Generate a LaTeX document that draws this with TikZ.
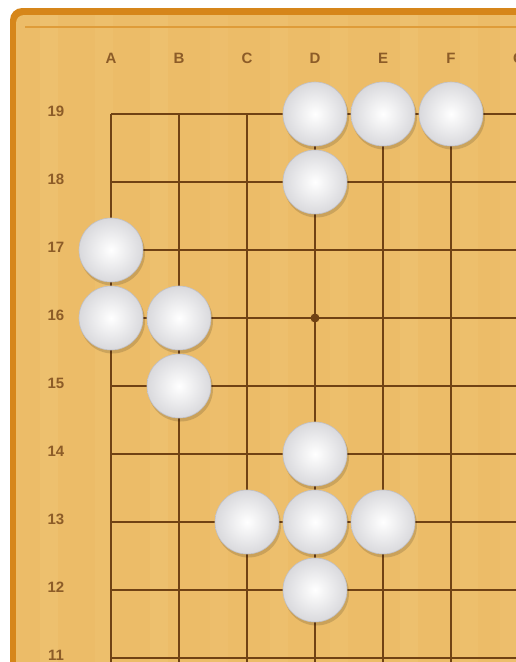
\documentclass[tikz,border=0pt]{standalone}
\usepackage{fontspec}
\setmainfont{Liberation Sans}
\definecolor{wood}{RGB}{236,188,104}
\definecolor{woodlight}{RGB}{242,204,128}
\definecolor{rim}{RGB}{214,134,26}
\definecolor{gridc}{RGB}{112,66,20}
\definecolor{labc}{RGB}{140,92,40}
\definecolor{stoneedge}{RGB}{192,192,198}
\tikzset{
  lab/.style={font=\bfseries\fontsize{15}{15}\selectfont, text=labc, inner sep=0pt},
  gridline/.style={draw=gridc, line width=1.4pt},
  wstone/.style={circle, minimum size=64pt, inner sep=0pt, draw=stoneedge, line width=0.6pt,
    inner color=white, outer color=stoneedge!60!white},
}
\begin{document}
\begin{tikzpicture}[x=1pt,y=-1pt]
\useasboundingbox (0,0) rectangle (516,662);
\fill[white] (0,0) rectangle (516,662);
% board rim and surface
\fill[rim, rounded corners=12pt] (10,8) rectangle (560,700);
\fill[wood, rounded corners=8pt] (16,15) rectangle (560,700);
\foreach \xx/\op in {40/0.25,95/0.2,150/0.25,210/0.18,270/0.22,330/0.2,400/0.25,460/0.2,500/0.18} {
  \fill[woodlight, opacity=\op] (\xx,15) rectangle ++(18,690);
}
\draw[rim!60!wood, line width=2pt] (25,27) -- (560,27);
% grid
\foreach \i in {0,...,6} \draw[gridline] (111+68*\i,114) -- (111+68*\i,700);
\foreach \j in {0,...,8} \draw[gridline] (111,114+68*\j) -- (560,114+68*\j);
% star point
\node[circle, fill=gridc, minimum size=9pt, inner sep=0pt] (star) at (315,318) {};
% column labels
\foreach \l [count=\i from 0] in {A,B,C,D,E,F,G} \node[lab] (col\l) at (111+68*\i,58) {\l};
% row labels
\foreach \r [count=\j from 0] in {19,18,17,16,15,14,13,12,11} \node[lab] (row\r) at (56,111+68*\j) {\r};
% stones
\foreach \n/\x/\y in {d19/315/114, e19/383/114, f19/451/114, d18/315/182,
   a17/111/250, a16/111/318, b16/179/318, b15/179/386,
   d14/315/454, c13/247/522, d13/315/522, e13/383/522, d12/315/590} {
  \fill[black, opacity=0.14] (\x+1.5,\y+3) circle (32.5pt);
  \node[wstone] (\n) at (\x,\y) {};
}
\end{tikzpicture}
\end{document}
